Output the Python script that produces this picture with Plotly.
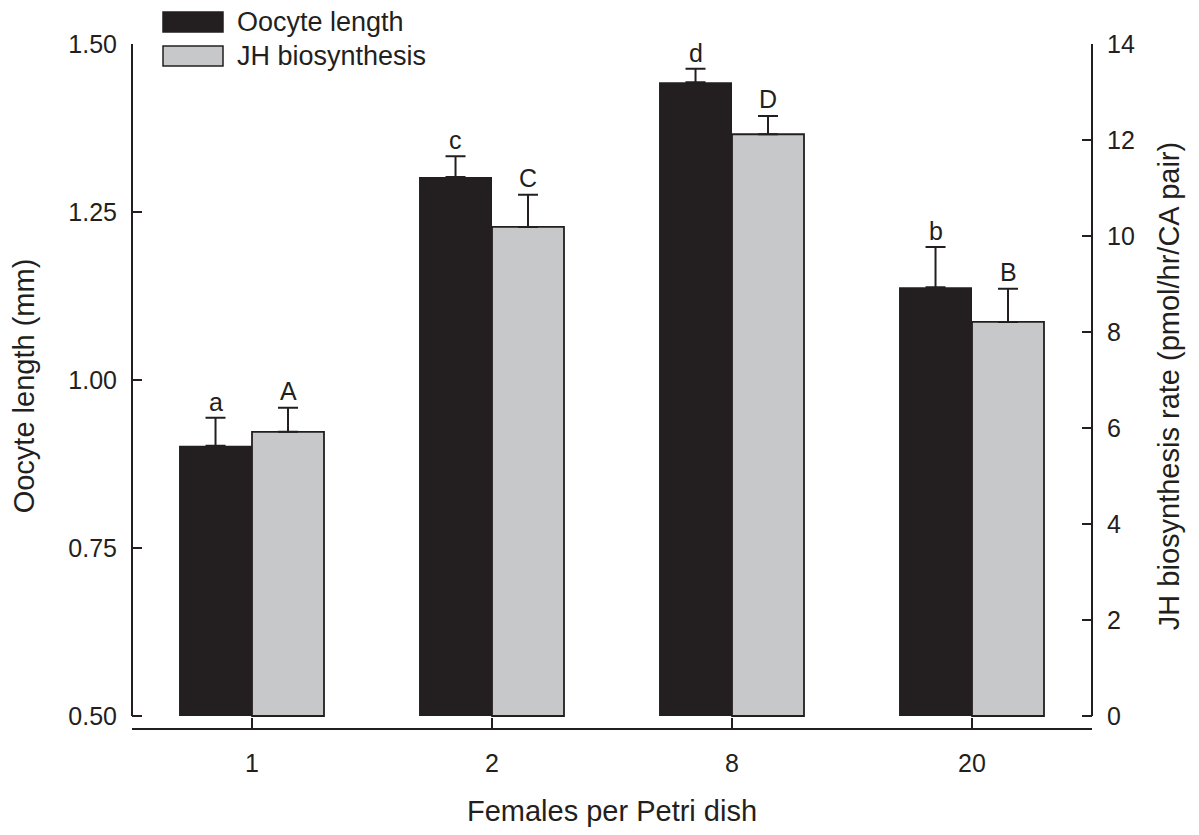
import plotly.graph_objects as go

categories = ["1", "2", "8", "20"]
oocyte_length = [0.902, 1.302, 1.443, 1.138]
oocyte_err = [0.042, 0.031, 0.020, 0.060]
jh_rate = [5.92, 10.19, 12.12, 8.21]
jh_err = [0.50, 0.67, 0.38, 0.69]
oocyte_letters = ["a", "c", "d", "b"]
jh_letters = ["A", "C", "D", "B"]
left_ticks = [0.50, 0.75, 1.00, 1.25, 1.50]
right_ticks = [0, 2, 4, 6, 8, 10, 12, 14]

BLACK = "#231f20"
GRAY = "#c7c8ca"
FONT = "Arial, Liberation Sans, Helvetica, sans-serif"
TICK = 25
TITLE = 29
LEGF = 27
xpos = list(range(len(categories)))
base_len = 0.5

# the page body has an 8px margin, so the figure is sized to fit the window
W, H = 1183, 819
L, T = 124, 36
PW, PH = 960, 684
R, B = W - L - PW, H - T - PH

fig = go.Figure()
fig.add_trace(go.Bar(
    x=xpos, y=[v - base_len for v in oocyte_length], base=base_len,
    width=0.304, offset=-0.304, marker=dict(color=BLACK, line=dict(width=0)),
    error_y=dict(type="data", symmetric=False, array=oocyte_err,
                 arrayminus=[0] * 4, color=BLACK, thickness=2, width=10),
    name="Oocyte length", yaxis="y", showlegend=False))
fig.add_trace(go.Bar(
    x=xpos, y=jh_rate, base=0,
    width=0.30, offset=0, marker=dict(color=GRAY, line=dict(color=BLACK, width=1.8)),
    error_y=dict(type="data", symmetric=False, array=jh_err,
                 arrayminus=[0] * 4, color=BLACK, thickness=2, width=10),
    name="JH biosynthesis", yaxis="y2", showlegend=False))

ann = []
for i in xpos:
    ann.append(dict(x=i - 0.152, y=oocyte_length[i] + oocyte_err[i], xref="x", yref="y",
                    text=oocyte_letters[i], showarrow=False, yanchor="bottom", yshift=0,
                    font=dict(size=TICK, color=BLACK, family=FONT)))
    ann.append(dict(x=i + 0.15, y=jh_rate[i] + jh_err[i], xref="x", yref="y2",
                    text=jh_letters[i], showarrow=False, yanchor="bottom", yshift=1,
                    font=dict(size=TICK, color=BLACK, family=FONT)))

# legend (drawn manually); positions in plot-area pixels from top-left
leg = [("Oocyte length", BLACK, 0), ("JH biosynthesis", GRAY, 1)]
shapes = []
for label, col, k in leg:
    top = -32 + k * 34          # px relative to plot-area top
    x0px, x1px = 31, 91
    shapes.append(dict(type="rect", xref="paper", yref="paper",
                       x0=x0px / PW, x1=x1px / PW,
                       y0=(PH - (top + 20)) / PH, y1=(PH - top) / PH,
                       fillcolor=col, line=dict(color=BLACK, width=1.5)))
    ann.append(dict(x=103 / PW, y=(PH - (top + 10)) / PH, xref="paper", yref="paper",
                    text=label, showarrow=False, xanchor="left", yanchor="middle",
                    font=dict(size=LEGF, color=BLACK, family=FONT)))

# y axis lines (spanning only the value range)
shapes.append(dict(type="line", xref="paper", yref="y", x0=0, x1=0, y0=0.5, y1=1.5,
                   line=dict(color=BLACK, width=2)))
shapes.append(dict(type="line", xref="paper", yref="y2", x0=1, x1=1, y0=0, y1=14,
                   line=dict(color=BLACK, width=2)))

fig.update_layout(
    width=W, height=H,
    margin=dict(l=L, r=R, t=T, b=B),
    paper_bgcolor="white", plot_bgcolor="white",
    font=dict(family=FONT, size=TICK, color=BLACK),
    barmode="overlay",
    xaxis=dict(range=[-0.5, 3.5], tickvals=xpos, ticktext=categories,
               ticks="inside", ticklen=10, tickwidth=1.5, tickcolor=BLACK,
               tickfont=dict(size=TICK, family=FONT, color=BLACK),
               showline=True, linecolor=BLACK, linewidth=2, showgrid=False, zeroline=False,
               ticklabelstandoff=12, automargin=False,
               title=dict(text="Females per Petri dish", standoff=34,
                          font=dict(size=TITLE, family=FONT, color=BLACK))),
    yaxis=dict(range=[0.5 - 12 / 672, 1.5], tickvals=left_ticks,
               ticktext=["%.2f" % v for v in left_ticks],
               ticks="inside", ticklen=10, tickwidth=1.5, tickcolor=BLACK,
               tickfont=dict(size=TICK, family=FONT, color=BLACK),
               showline=False, showgrid=False, zeroline=False, ticklabelstandoff=14,
               automargin=False,
               title=dict(text="Oocyte length (mm)", standoff=29,
                          font=dict(size=TITLE, family=FONT, color=BLACK))),
    yaxis2=dict(range=[-12 / 48, 14], tickvals=right_ticks, overlaying="y", side="right",
                ticks="inside", ticklen=10, tickwidth=1.5, tickcolor=BLACK,
                tickfont=dict(size=TICK, family=FONT, color=BLACK),
                showline=False, showgrid=False, zeroline=False, ticklabelstandoff=14,
                automargin=False,
                title=dict(text="JH biosynthesis rate (pmol/hr/CA pair)", standoff=24,
                           font=dict(size=TITLE, family=FONT, color=BLACK))),
    shapes=shapes, annotations=ann,
)

fig.write_html("out.html")
